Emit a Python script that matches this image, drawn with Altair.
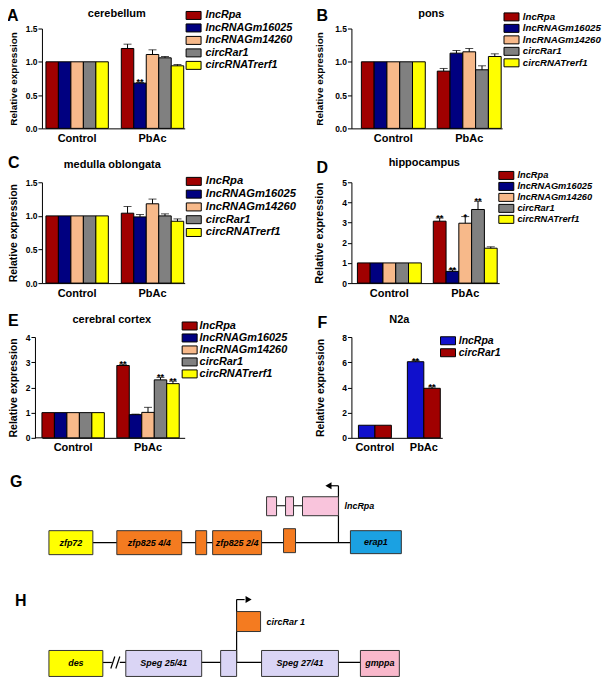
import altair as alt
import pandas as pd

FONT = "Liberation Sans"
GROUPS = ["Control", "PbAc"]
GENES = ["lncRpa", "lncRNAGm16025", "lncRNAGm14260", "circRar1", "circRNATrerf1"]
GENE_COLORS = ["#A00000", "#000080", "#F7B98A", "#808080", "#FFFF00"]
CONTROL5 = [1.0, 1.0, 1.0, 1.0, 1.0]

# A cerebellum
A_PBAC = [1.20, 0.68, 1.11, 1.06, 0.94]
A_ERR = [0.065, 0.01, 0.07, 0.02, 0.02]
A_SIG = ["", "**", "", "", ""]
# B pons
B_PBAC = [0.86, 1.13, 1.15, 0.88, 1.08]
B_ERR = [0.04, 0.04, 0.05, 0.06, 0.04]
B_SIG = ["", "", "", "", ""]
# C medulla oblongata
C_PBAC = [1.04, 0.985, 1.18, 1.00, 0.92]
C_ERR = [0.10, 0.035, 0.07, 0.03, 0.035]
C_SIG = ["", "", "", "", ""]
# D hippocampus
D_PBAC = [3.07, 0.58, 2.97, 3.65, 1.73]
D_ERR = [0.16, 0.08, 0.33, 0.41, 0.07]
D_SIG = ["**", "**", "*", "**", ""]
# E cerebral cortex
E_PBAC = [2.87, 0.92, 1.01, 2.30, 2.15]
E_ERR = [0.05, 0.02, 0.20, 0.10, 0.10]
E_SIG = ["**", "", "", "**", "**"]
# F N2a
F_GENES = ["lncRpa", "circRar1"]
F_COLORS = ["#1010CC", "#A00000"]
F_CONTROL = [1.0, 1.0]
F_PBAC = [6.04, 3.93]
F_ERR = [0.08, 0.11]
F_SIG = ["**", "**"]

# G gene map (schematic positions)
G_NAMES = ["zfp72", "zfp825 4/4", "ex1", "zfp825 2/4", "ex2", "erap1", "lnc1", "lnc2", "lnc3"]
G_LABELS = ["zfp72", "zfp825 4/4", "", "zfp825 2/4", "", "erap1", "", "", ""]
G_START = [14, 82, 161, 178, 249, 316, 232, 251, 268]
G_END = [58, 147, 172, 227, 261, 367, 242, 259, 304]
G_LOW = [-12, -12, -12, -12, -10, -11, 27, 27, 27]
G_HIGH = [12, 12, 12, 12, 14, 12, 46, 46, 46]
G_COLORS = ["#FFFF00", "#F47B20", "#F47B20", "#F47B20", "#F47B20", "#1BA1E2", "#F9C4DC", "#F9C4DC", "#F9C4DC"]
G_LX1 = [58, 232, 304, 304]
G_LX2 = [316, 304, 304, 296]
G_LY1 = [0, 37, 0, 57]
G_LY2 = [0, 37, 57, 57]

# H gene map
H_NAMES = ["des", "Speg 25/41", "exh", "Speg 27/41", "gmppa", "circ"]
H_LABELS = ["des", "Speg 25/41", "", "Speg 27/41", "gmppa", ""]
H_START = [14, 91, 186, 227, 326, 202]
H_END = [68, 167, 202, 304, 365, 226]
H_LOW = [-14, -14, -14, -14, -14, 31]
H_HIGH = [12, 12, 12, 12, 12, 51]
H_COLORS = ["#FFFF00", "#DAD5F5", "#DAD5F5", "#DAD5F5", "#F9B8CB", "#F47B20"]
H_LX1 = [68, 85, 76, 81, 202, 202]
H_LX2 = [77, 326, 80, 85, 202, 210]
H_LY1 = [0, 0, -6, -6, 0, 63]
H_LY2 = [0, 0, 6, 6, 63, 63]


def label_layer(text, x, y, size, align):
    return alt.Chart(pd.DataFrame({"t": [text]})).mark_text(
        fontSize=size, fontWeight="bold", align=align, baseline="middle", color="black").encode(
        x=alt.value(x), y=alt.value(y), text="t:N")


def panel(letter, title, genes, colors, control, pbac, err, sig, ymax, yvals, fmt,
          W, H, pI, pO, align, leg, txy, lxy, ytsize, tpad, yoff=0, anchor=False):
    rows = []
    for g, v in zip(genes, control):
        rows.append(dict(group="Control", gene=g, value=v, upper=v, err=0.0, sig=""))
    for g, v, e, s in zip(genes, pbac, err, sig):
        rows.append(dict(group="PbAc", gene=g, value=v, upper=v + e, err=e, sig=s))
    df = pd.DataFrame(rows)
    xaxis = alt.Axis(labelAngle=0, ticks=False, domainColor="black", labelFontSize=11,
                     labelFontWeight="bold", labelColor="black", labelPadding=4, title=None)
    yaxis = alt.Axis(values=yvals, format=fmt, grid=False, domainColor="black", tickColor="black",
                     tickSize=4, labelFontSize=8.5, labelFontWeight="bold", labelColor="black",
                     labelPadding=1, titleFontSize=ytsize, titleFontWeight="bold",
                     titleColor="black", titlePadding=tpad, offset=yoff)
    x = alt.X("group:N", sort=GROUPS, title=None,
              scale=alt.Scale(domain=GROUPS, paddingInner=pI, paddingOuter=pO, align=align), axis=xaxis)
    xo = alt.XOffset("gene:N", sort=genes, scale=alt.Scale(domain=genes, paddingInner=0, paddingOuter=0))
    ysc = alt.Scale(domain=[0, ymax], nice=False)
    y = alt.Y("value:Q", scale=ysc, axis=yaxis, title="Relative expression")
    yu = alt.Y("upper:Q", scale=ysc, axis=yaxis, title="Relative expression")
    base = alt.Chart(df)
    bars = base.mark_bar(stroke="black", strokeWidth=1).encode(
        x=x, xOffset=xo, y=y,
        color=alt.Color("gene:N", scale=alt.Scale(domain=genes, range=colors),
                        legend=alt.Legend(orient="none", legendX=leg[0], legendY=leg[1], title=None,
                                          symbolType="M-1.875,-1H1.875V1H-1.875Z", symbolSize=64,
                                          symbolStrokeColor="black", symbolStrokeWidth=1,
                                          symbolOpacity=1, labelFontSize=leg[2], labelFontStyle="italic",
                                          labelFontWeight="bold", labelColor="black",
                                          rowPadding=leg[3], labelOffset=leg[4], padding=0)))
    rules = base.transform_filter("datum.err > 0").mark_rule(color="black", strokeWidth=1).encode(
        x=x, xOffset=xo, y=y, y2="upper:Q")
    caps = base.transform_filter("datum.err > 0").mark_tick(
        color="black", thickness=1, size=8, orient="horizontal").encode(x=x, xOffset=xo, y=yu)
    stars = base.transform_filter("datum.sig != ''").mark_text(
        fontSize=9, fontWeight="bold", baseline="alphabetic", dy=3, color="black").encode(
        x=x, xOffset=xo, y=yu, text="sig:N")
    layers = [bars, rules, caps, stars,
              label_layer(letter, lxy[0], lxy[1], 16, "left"),
              label_layer(title, txy[0], txy[1], 11, "center")]
    if yoff:
        layers.append(alt.Chart(pd.DataFrame({"t": [0]})).mark_rule(color="black", strokeWidth=1).encode(
            x=alt.value(-yoff), x2=alt.value(0), y=alt.value(H)))
    if anchor:
        # invisible layout anchor fixing the page origin
        layers.append(alt.Chart(pd.DataFrame({"t": [0]})).mark_rect(opacity=0).encode(
            x=alt.value(-60), x2=alt.value(-59), y=alt.value(-40), y2=alt.value(-39)))
    return alt.layer(*layers).resolve_scale(xOffset="shared").properties(width=W, height=H)


def gene_map(letter, names, labels, start, end, low, high, colors, lx1, lx2, ly1, ly2,
             ydom, H, arrow_x, arrow_y, arrow_shape, tag, tag_x, tag_y, lxy):
    xs = alt.Scale(domain=[7, 150], nice=False, zero=False)
    ys = alt.Scale(domain=ydom, nice=False, zero=False)
    boxes = pd.DataFrame(dict(name=names, label=labels, start=start, end=end, low=low, high=high))
    lines = pd.DataFrame(dict(x1=lx1, x2=lx2, y1=ly1, y2=ly2))
    ln = alt.Chart(lines).mark_rule(color="black", strokeWidth=1.2).encode(
        x=alt.X("x1:Q", scale=xs, axis=None), x2="x2:Q",
        y=alt.Y("y1:Q", scale=ys, axis=None), y2="y2:Q")
    rect = alt.Chart(boxes).mark_rect(stroke="#333333", strokeWidth=1).encode(
        x=alt.X("start:Q", scale=xs, axis=None), x2="end:Q",
        y=alt.Y("low:Q", scale=ys, axis=None), y2="high:Q",
        color=alt.Color("name:N", scale=alt.Scale(domain=names, range=colors), legend=None))
    txt = alt.Chart(boxes).transform_calculate(
        xc="(datum.start + datum.end) / 2", yc="(datum.low + datum.high) / 2").mark_text(
        fontSize=9, fontWeight="bold", fontStyle="italic", color="black").encode(
        x=alt.X("xc:Q", scale=xs, axis=None),
        y=alt.Y("yc:Q", scale=ys, axis=None), text="label:N")
    arr = alt.Chart(pd.DataFrame(dict(x=[arrow_x], y=[arrow_y]))).mark_point(
        shape=arrow_shape, filled=True, color="black", size=50, opacity=1).encode(
        x=alt.X("x:Q", scale=xs, axis=None), y=alt.Y("y:Q", scale=ys, axis=None))
    tg = alt.Chart(pd.DataFrame(dict(x=[tag_x], y=[tag_y], t=[tag]))).mark_text(
        fontSize=9, fontWeight="bold", fontStyle="italic", align="left", color="black").encode(
        x=alt.X("x:Q", scale=xs, axis=None), y=alt.Y("y:Q", scale=ys, axis=None), text="t:N")
    return alt.layer(ln, rect, txt, arr, tg, label_layer(letter, lxy[0], lxy[1], 16, "left")).properties(
        width=143, height=H)


A = panel("A", "cerebellum", GENES, GENE_COLORS, CONTROL5, A_PBAC, A_ERR, A_SIG, 1.5,
          [0, 0.5, 1.0, 1.5], ".1f", 143, 100, 0.172, 0.033, 0.8,
          (146.5, -18.5, 10.8, -0.5, 6.5), (75, -14.5), (-35, -12.5), 10, 7, anchor=True)
B = panel("B", "pons", GENES, GENE_COLORS, CONTROL5, B_PBAC, B_ERR, B_SIG, 1.5,
          [0, 0.5, 1.0, 1.5], ".1f", 151, 100, 0.158, 0.072, 0.91,
          (155.5, -16.5, 9.7, -1.5, 6.5), (80, -14.5), (-35, -12.5), 10, 10)
C = panel("C", "medulla oblongata", GENES, GENE_COLORS, CONTROL5, C_PBAC, C_ERR, C_SIG, 1.5,
          [0, 0.5, 1.0, 1.5], ".1f", 143, 101, 0.172, 0.033, 0.8,
          (146.5, -6.5, 11.2, -0.2, 6.5), (70.5, -17), (-34, -19), 10.5, 7)
D = panel("D", "hippocampus", GENES, GENE_COLORS, CONTROL5, D_PBAC, D_ERR, D_SIG, 5,
          [0, 1, 2, 3, 4, 5], "d", 148, 101, 0.158, 0.0526, 0.75,
          (150.5, -11.5, 9.3, -2.3, 6.5), (73, -19), (-35, -14), 10.8, 17)
E = panel("E", "cerebral cortex", GENES, GENE_COLORS, CONTROL5, E_PBAC, E_ERR, E_SIG, 4,
          [0, 1, 2, 3, 4], "d", 143, 101, 0.1667, 0.0367, 0.0,
          (142.5, -16.5, 10.9, -1.5, 4.5), (70, -17), (-34, -16), 10.6, 7, yoff=7)
F = panel("F", "N2a", F_GENES, F_COLORS, F_CONTROL, F_PBAC, F_ERR, F_SIG, 8,
          [0, 2, 4, 6, 8], "d", 91, 101, 0.327, 0.0918, 0.78,
          (91.5, -1.5, 10.5, -2, 5.5), (48, -17), (-34, -14), 10.5, 16)

G = gene_map("G", G_NAMES, G_LABELS, G_START, G_END, G_LOW, G_HIGH, G_COLORS,
             G_LX1, G_LX2, G_LY1, G_LY2, [-17, 51], 68, 294, 57, "triangle-left",
             "lncRpa", 310, 37, (-32, -10))
H = gene_map("H", H_NAMES, H_LABELS, H_START, H_END, H_LOW, H_HIGH, H_COLORS,
             H_LX1, H_LX2, H_LY1, H_LY2, [-17, 49], 66, 214, 63, "triangle-right",
             "circRar 1", 232, 41, (-27, -13))

spacer = alt.Chart(pd.DataFrame({"s": [0]})).mark_point(opacity=0).encode(
    x=alt.value(0), y=alt.value(0)).properties(width=1, height=1)

chart = alt.concat(A, B, C, D, E, F, G, spacer, H, columns=2,
                   spacing={"row": 54, "column": 167}, align="none", bounds="flush").resolve_scale(
    color="independent", xOffset="independent", x="independent", y="independent").resolve_legend(
    color="independent").properties(
    padding={"left": -26, "top": -20, "right": 0, "bottom": 0}).configure(
    font=FONT).configure_view(stroke=None).configure_text(font=FONT).configure_title(
    font=FONT).configure_axis(labelFont=FONT, titleFont=FONT).configure_legend(labelFont=FONT)

chart.save("out.html", embed_options={"renderer": "svg", "actions": False})
